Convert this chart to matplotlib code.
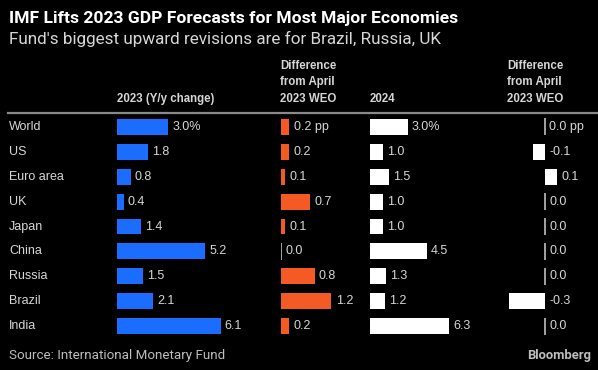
import matplotlib
matplotlib.use("Agg")
import matplotlib.pyplot as plt
from matplotlib.lines import Line2D

W, H = 598, 370

countries = ["World", "US", "Euro area", "UK", "Japan", "China", "Russia", "Brazil", "India"]
gdp_2023 = [3.0, 1.8, 0.8, 0.4, 1.4, 5.2, 1.5, 2.1, 6.1]
diff_2023 = [0.2, 0.2, 0.1, 0.7, 0.1, 0.0, 0.8, 1.2, 0.2]
gdp_2024 = [3.0, 1.0, 1.5, 1.0, 1.0, 4.5, 1.3, 1.2, 6.3]
diff_2024 = [0.0, -0.1, 0.1, 0.0, 0.0, 0.0, 0.0, -0.3, 0.0]

title = "IMF Lifts 2023 GDP Forecasts for Most Major Economies"
subtitle = "Fund's biggest upward revisions are for Brazil, Russia, UK"
source = "Source: International Monetary Fund"

BG = "black"
TXT = "#d6d6d6"
BLUE = "#1a6dff"
ORANGE = "#f45a24"
WHITE = "#ffffff"
ZERO = "#b0b0b0"

fig = plt.figure(figsize=(W / 100, H / 100), dpi=100, facecolor=BG)


def fx(px):
    return px / W


def fy(py):
    return 1 - py / H


# rows sit between y=114.5 and y=338.5 px
ROW_TOP, ROW_BOT = 114.5, 338.5


def col_axes(x0, ppu, lo, hi):
    ax = fig.add_axes([fx(x0 + lo * ppu), fy(ROW_BOT), (hi - lo) * ppu / W, (ROW_BOT - ROW_TOP) / H])
    ax.set_xlim(lo, hi)
    ax.set_ylim(len(countries) - 0.5, -0.5)
    ax.axis("off")
    ax.patch.set_alpha(0)
    return ax


def draw_col(ax, vals, color, suffix, label_font):
    rows = range(len(vals))
    ax.barh(rows, vals, height=0.64, color=color)
    for i, v in enumerate(vals):
        txt = f"{v:.1f}" + (suffix if i == 0 else "")
        if v == 0:
            ax.vlines(0, i - 0.34, i + 0.34, color=ZERO, lw=1.3)
        x = max(v, 0)
        ax.annotate(txt, (x, i), xytext=(3, 0), textcoords="offset points",
                    va="center", ha="left", color=TXT, **label_font)


lab = dict(fontsize=9, family="Liberation Sans")

ax1 = col_axes(117, 17, 0, 9)
draw_col(ax1, gdp_2023, BLUE, "%", lab)
ax2 = col_axes(281, 42, 0, 2)
draw_col(ax2, diff_2023, ORANGE, " pp", lab)
ax3 = col_axes(370, 12.6, 0, 9)
draw_col(ax3, gdp_2024, WHITE, "%", lab)
ax4 = col_axes(545, 120, -0.35, 0.4)
draw_col(ax4, diff_2024, WHITE, " pp", lab)

# country names
for i, c in enumerate(countries):
    fig.text(fx(9), fy(127 + 24.9 * i), c, va="center", ha="left", color=TXT, **lab)

# titles
fig.text(fx(9), fy(18), title, fontsize=12.6, fontweight="bold", family="Roboto",
         color="white", va="center", ha="left")
fig.text(fx(9), fy(39), subtitle, fontsize=12.3, family="Roboto",
         color=TXT, va="center", ha="left")

# column headers
hdr = dict(fontsize=8.3, fontweight="bold", family="Liberation Sans", color=TXT,
           va="center", ha="left")
diff_lines = ["Difference", "from April", "2023 WEO"]
for k, line in enumerate(diff_lines):
    fig.text(fx(280), fy(66 + 16.5 * k), line, **hdr)
    fig.text(fx(507), fy(66 + 16.5 * k), line, **hdr)
fig.text(fx(117), fy(99), "2023 (Y/y change)", **hdr)
fig.text(fx(370), fy(99), "2024", **hdr)

fig.add_artist(Line2D([fx(8), fx(598)], [fy(113), fy(113)], color="#8a8a8a", lw=1.6))

# footer
fig.text(fx(9), fy(356), source, fontsize=9.6, family="Roboto", color="#bdbdbd",
         va="center", ha="left")
fig.text(fx(591), fy(356), "Bloomberg", fontsize=9.4, fontweight="bold", family="Roboto",
         color="#bdbdbd", va="center", ha="right")

fig.savefig("out.png", dpi=100, facecolor=BG)
